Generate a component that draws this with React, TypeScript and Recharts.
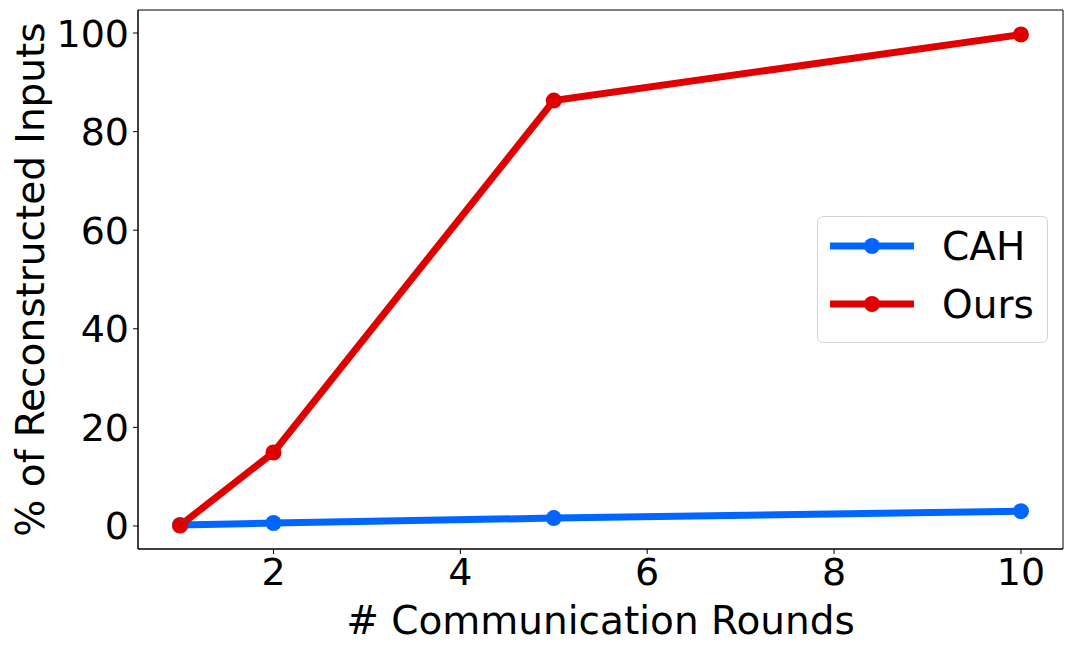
import { LineChart, Line, XAxis, YAxis, ReferenceArea } from "recharts";

const rounds = [1, 2, 5, 10];
const cahValues = [0.2, 0.6, 1.6, 3.0];
const oursValues = [0.1, 14.9, 86.3, 99.7];
const xTicks = [2, 4, 6, 8, 10];
const yTicks = [0, 20, 40, 60, 80, 100];

const BLUE = "#0066ff";
const RED = "#e00000";
const FONT = "'DejaVu Sans', sans-serif";
const X_DOMAIN = [0.55, 10.45];
const Y_DOMAIN = [-4.67, 104.67];

const data = rounds.map((r, i) => ({ round: r, cah: cahValues[i], ours: oursValues[i] }));

const series = [
  { key: "cah", name: "CAH", color: BLUE },
  { key: "ours", name: "Ours", color: RED },
];

function LegendBox() {
  return (
    <div
      style={{
        position: "absolute",
        left: 817,
        top: 216,
        width: 231,
        height: 127,
        boxSizing: "border-box",
        border: "1px solid #d4d4d4",
        borderRadius: 6,
        background: "rgba(255,255,255,0.8)",
        padding: "0 0 0 12px",
        fontFamily: FONT,
        fontSize: 39,
      }}
    >
      {series.map((s) => (
        <div key={s.key} style={{ display: "flex", alignItems: "center", height: 58 }}>
          <svg width={84} height={20} style={{ marginRight: 28 }}>
            <line x1={0} y1={10} x2={84} y2={10} stroke={s.color} strokeWidth={7} />
            <circle cx={42} cy={10} r={8} fill={s.color} />
          </svg>
          <span>{s.name}</span>
        </div>
      ))}
    </div>
  );
}

export default function App() {
  return (
    <div style={{ position: "fixed", left: 0, top: 0, width: 1077, height: 650, background: "#fff" }}>
      <LineChart width={1077} height={650} data={data} margin={{ top: 10, right: 14, bottom: 0, left: 0 }}>
        <XAxis
          dataKey="round"
          type="number"
          domain={X_DOMAIN}
          ticks={xTicks}
          allowDataOverflow
          height={101}
          stroke="#000"
          tickSize={5}
          tickMargin={4}
          tick={{ fill: "#000", fontSize: 38, fontFamily: FONT }}
          label={{
            content: ({ viewBox }: any) => (
              <text
                x={viewBox.x + viewBox.width / 2}
                y={viewBox.y + 71}
                textAnchor="middle"
                dominantBaseline="central"
                fontSize={39}
                fontFamily={FONT}
                fill="#000"
              >
                # Communication Rounds
              </text>
            ),
          }}
        />
        <YAxis
          type="number"
          domain={Y_DOMAIN}
          ticks={yTicks}
          allowDataOverflow
          width={138}
          stroke="#000"
          tickSize={5}
          tickMargin={4}
          tick={{ fill: "#000", fontSize: 38, fontFamily: FONT }}
          label={{
            content: ({ viewBox }: any) => {
              const cx = viewBox.x + 30;
              const cy = viewBox.y + viewBox.height / 2;
              return (
                <text
                  x={cx}
                  y={cy}
                  transform={`rotate(-90 ${cx} ${cy})`}
                  textAnchor="middle"
                  dominantBaseline="central"
                  fontSize={39}
                  fontFamily={FONT}
                  fill="#000"
                >
                  % of Reconstructed Inputs
                </text>
              );
            },
          }}
        />
        <ReferenceArea
          x1={X_DOMAIN[0]}
          x2={X_DOMAIN[1]}
          y1={Y_DOMAIN[0]}
          y2={Y_DOMAIN[1]}
          fill="none"
          stroke="#000"
          strokeWidth={1}
          fillOpacity={0}
          ifOverflow="visible"
        />
        {series.map((s) => (
          <Line
            key={s.key}
            type="linear"
            dataKey={s.key}
            name={s.name}
            stroke={s.color}
            strokeWidth={7}
            dot={{ r: 8, fill: s.color, stroke: "none" }}
            activeDot={false}
            isAnimationActive={false}
          />
        ))}
      </LineChart>
      <LegendBox />
    </div>
  );
}
